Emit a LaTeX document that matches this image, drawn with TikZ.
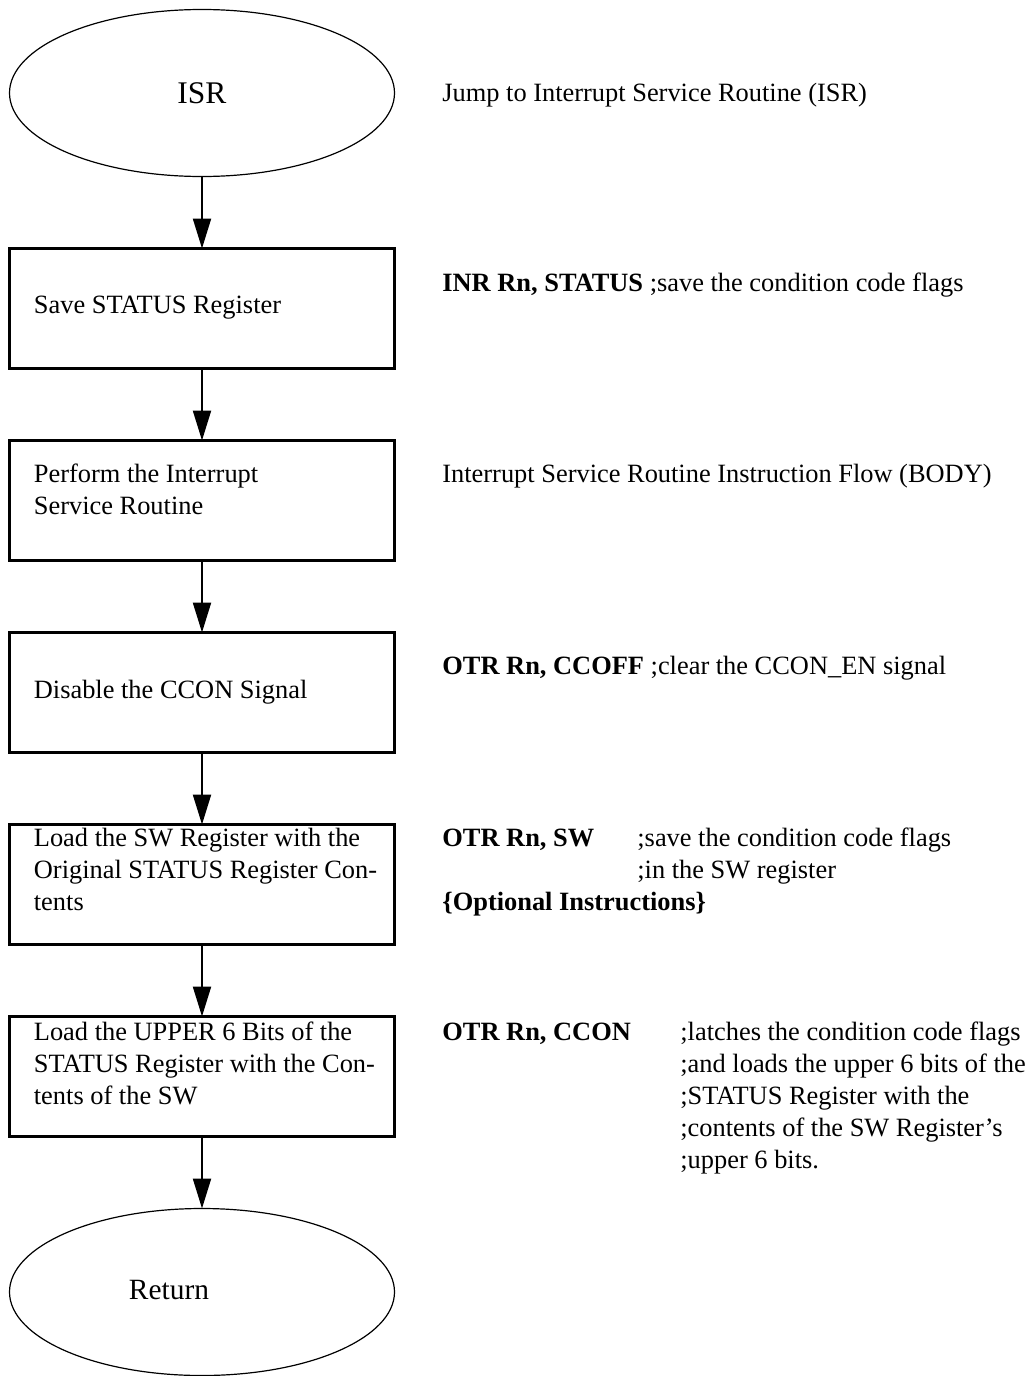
\documentclass[tikz,border=0pt]{standalone}
\usepackage{fontspec}
\setmainfont{Liberation Serif}
\usetikzlibrary{shapes.geometric, arrows.meta, positioning, calc}
% lines of a text block; the first line carries the baseline
\newcommand{\txtlines}[1]{\begin{tabular}[t]{@{}l@{}}#1\end{tabular}}

\begin{document}
\begin{tikzpicture}[
    % Global Styles
    x=0.5pt, y=-0.5pt,
    node distance=36pt,
    font=\fontsize{13.2}{16}\selectfont,
    % Node Styles
    term/.style={
        ellipse,
        draw=black,
        line width=0.6pt,
        minimum width=192.5pt,
        minimum height=83.5pt,
        inner sep=0pt,
        outer sep=0pt
    },
    stepbox/.style={
        rectangle,
        draw=black,
        line width=1.1pt,
        minimum width=192.5pt,
        minimum height=60pt,
        inner sep=0pt,
        outer sep=0pt
    },
    boxtext/.style={anchor=base west, inner sep=0pt},
    note/.style={anchor=base west, inner sep=0pt},
    % Arrow Style
    arrow/.style={
        -{Triangle[length=15pt, width=9pt]},
        draw=black,
        line width=1.1pt
    }
]

    \useasboundingbox (0,0) rectangle (1028,1376);

    % --- Flow nodes ---
    \node[term, font=\fontsize{15.75}{18}\selectfont] (isr) at (202,93) {ISR};
    \node[stepbox, below=of isr] (save) {};
    \node[stepbox, below=of save] (body) {};
    \node[stepbox, below=of body] (ccoff) {};
    \node[stepbox, below=of ccoff] (loadsw) {};
    \node[stepbox, below=of loadsw] (upper) {};
    \node[term, below=of upper] (ret) {};

    % --- Texts in the flow nodes ---
    \node[font=\fontsize{14.7}{17}\selectfont] (rettxt) at ($(ret.center)+(-33,-2)$) {Return};
    \node[boxtext] (savetxt) at ($(save.north west)+(24,65)$) {Save STATUS Register};
    \node[boxtext] (bodytxt) at ($(body.north west)+(24,42)$) {\txtlines{Perform the Interrupt\\Service Routine}};
    \node[boxtext] (ccofftxt) at ($(ccoff.north west)+(24,66)$) {Disable the CCON Signal};
    \node[boxtext] (loadswtxt) at ($(loadsw.north west)+(24,22)$) {\txtlines{Load the SW Register with the\\Original STATUS Register Con-\\tents}};
    \node[boxtext] (uppertxt) at ($(upper.north west)+(24,24)$) {\txtlines{Load the UPPER 6 Bits of the\\STATUS Register with the Con-\\tents of the SW}};

    % --- Notes on the right ---
    \node[note] (isrnote) at (442,101) {Jump to Interrupt Service Routine (ISR)};
    \node[note] (savenote) at (442,291) {\textbf{INR Rn, STATUS} ;save the condition code flags};
    \node[note] (bodynote) at (442,482) {Interrupt Service Routine Instruction Flow (BODY)};
    \node[note] (ccoffnote) at (442,674) {\textbf{OTR Rn, CCOFF} ;clear the CCON\_EN signal};
    \node[note] (loadswnote) at (442,846) {\txtlines{\makebox[97.5pt][l]{\textbf{OTR Rn, SW}};save the condition code flags\\
        \hspace*{97.5pt};in the SW register\\
        \textbf{\{Optional Instructions\}}}};
    \node[note] (uppernote) at (442,1040) {\txtlines{\makebox[119pt][l]{\textbf{OTR Rn, CCON}};latches the condition code flags\\
        \hspace*{119pt};and loads the upper 6 bits of the\\
        \hspace*{119pt};STATUS Register with the\\
        \hspace*{119pt};contents of the SW Register’s\\
        \hspace*{119pt};upper 6 bits.}};

    % --- Edges ---
    \draw[arrow] (isr.south) -- (save.north);
    \draw[arrow] (save.south) -- (body.north);
    \draw[arrow] (body.south) -- (ccoff.north);
    \draw[arrow] (ccoff.south) -- (loadsw.north);
    \draw[arrow] (loadsw.south) -- (upper.north);
    \draw[arrow] (upper.south) -- (ret.north);

\end{tikzpicture}
\end{document}
